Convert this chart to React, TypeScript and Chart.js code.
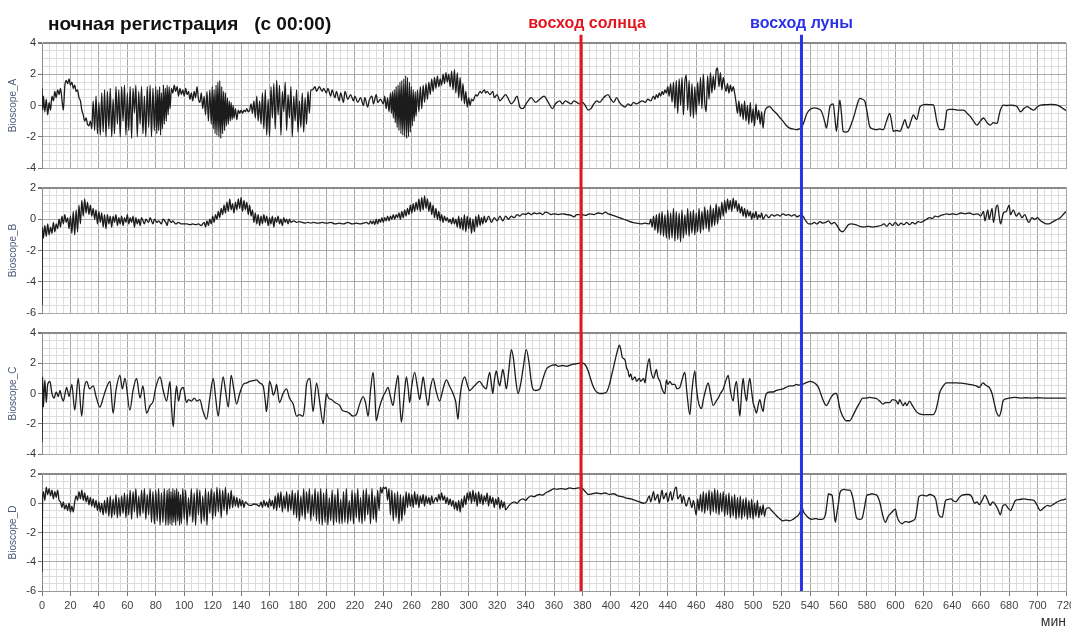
import React, { useEffect, useRef } from "react";
import { Chart, registerables } from "chart.js";

Chart.register(...registerables);

const FONT = "'Liberation Sans', Arial, sans-serif";

const chartTitle = "ночная регистрация   (с 00:00)";
const sunriseLabel = "восход солнца";
const moonriseLabel = "восход луны";
const xAxisTitle = "мин";
const panelTitles = ["Bioscope_A", "Bioscope_B", "Bioscope_C", "Bioscope_D"];
const panelRanges: [number, number][] = [[-4, 4], [-6, 2], [-4, 4], [-6, 2]];

const xMin = 0;
const xMax = 720;
const xMinorStep = 5;
const xMajorStep = 20;
const yMinorStep = 0.5;
const yMajorStep = 2;

const sunriseMinute = 379;
const moonriseMinute = 534;
const markerSpan = [0, 1.015];

const seriesA: [number, number][] = [
  [0,1.1],[0.5,-0.3],[1,0.6],[2,-0.4],[3,0.4],[4,-0.6],[5,0.2],[6,-0.3],[7,0.6],[8,0.3],[9,0.9],[10,0.5],[11,1.0],[12,0.7],[13,1.1],[14,0.4],[15,-0.3],[16,1.2],[17,1.6],[18,1.4],[19,1.7],[20,1.3],[21,1.5],[22,1.1],[23,1.3],[24,0.9],[25,1.0],[26,0.5],[27,0.3],[28,-0.3],[29,-0.6],[30,-1.0],[31,-0.8],[32,-1.2],[33,-1.3],[34,-1.0],[35,-1.5],
  [36,0.3],[37,-1.6],[38,0.6],[39,-1.8],[40,0.2],[41,-1.9],[42,0.8],[43,-1.7],[44,1.0],[45,-2.0],[46,0.9],[47,-1.5],[48,1.1],[49,-2.0],[50,0.4],[51,-1.8],[52,1.2],[53,-1.2],[54,1.0],[55,-2.0],[56,1.2],[57,-1.0],[58,1.3],[59,-1.9],[60,0.8],[61,-1.6],[62,1.2],[63,-2.1],[64,1.1],[65,-0.5],[66,1.3],[67,-2.0],[68,0.9],[69,-1.2],[70,1.2],[71,-1.8],[72,0.6],[73,-2.0],[74,1.2],[75,-1.4],[76,1.3],[77,-2.0],[78,1.1],[79,-1.6],
  [80,1.2],[80.7,-1.8],[81.4,1.0],[82,-1.6],[82.7,1.2],[83.4,-1.9],[84,0.8],[84.7,-1.5],[85.4,1.3],[86,-1.2],[86.7,1.1],[87.4,-1.0],[88,1.3],[88.7,-0.6],[89.4,1.2],[90,-0.2],[91,1.1],[92,0.8],[93,1.3],[94,0.9],[95,1.2],[96,0.6],[97,1.1],[98,0.7],[99,1.0],
  [100,0.6],[101,1.1],[102,0.7],[103,0.9],[104,0.4],[105,0.8],[106,0.3],[107,0.9],[108,0.5],[109,1.2],[110,0.4],[111,0.2],[112,0.8],[113,-0.2],[114,0.6],
  [115,-0.6],[116,0.9],[117,-1.0],[118,1.0],[119,-1.2],[119.7,1.2],[120.4,-1.5],[121,1.0],[121.7,-1.8],[122.4,1.3],[123,-1.9],[123.7,1.5],[124.4,-2.0],[125,1.6],[125.7,-2.1],[126.4,1.2],[127,-1.8],[127.7,0.9],[128.4,-1.6],[129,0.8],[129.7,-1.3],[130.4,0.5],[131,-1.2],[131.7,0.3],[132.4,-1.0],[133,0.2],[133.7,-0.9],[134.4,0.0],[135,-0.8],[136,-0.2],[137,-0.9],[138,-0.3],[139,-0.5],
  [140,-0.3],[141,-0.5],[142,-0.3],[143,-0.4],[144,-0.2],[145,-0.4],[146,-0.3],[147,0.1],[148,-0.5],[149,0.3],
  [150,-0.8],[151,0.6],[152,-1.0],[153,0.3],[154,-1.2],[155,0.8],[156,-1.5],[157,1.0],[158,-1.9],[159,0.4],[160,-2.0],[161,1.2],[162,-0.8],[163,1.4],[164,-1.5],[165,1.6],[166,-0.6],[167,1.3],[168,-1.9],[169,0.9],[170,-0.4],[171,1.5],[172,-1.6],[173,0.7],[174,-0.8],[175,1.2],[176,-2.0],[177,0.6],[178,-1.0],[179,1.0],[180,-1.7],[181,0.3],[182,-1.4],[183,0.8],[184,-1.7],[185,0.5],[186,-1.2],[187,0.9],[188,-0.5],[189,1.0],
  [190,1.0],[192,1.2],[193,0.9],[195,1.2],[197,0.9],[198,1.1],[200,0.8],[201,1.1],[203,0.6],[204,1.0],[206,0.5],[207,0.9],[209,0.3],[210,0.8],[212,0.2],[213,0.9],[215,0.4],[217,0.7],[219,0.3],[220,0.6],[222,0.2],[224,0.5],
  [226,0.0],[227,0.5],[229,-0.1],[230,0.3],[232,0.6],[233,0.1],[235,0.7],[236,0.2],[238,0.4],[240,0.1],[241,0.6],[242,-0.2],[243,0.5],[244,-0.4],[245,0.8],
  [245.7,-0.5],[246.4,0.9],[247,-0.8],[247.7,1.0],[248.4,-1.1],[249,1.2],[249.7,-1.4],[250.4,1.3],[251,-1.6],[251.7,1.5],[252.4,-1.8],[253,1.6],[253.7,-1.9],[254.4,1.7],[255,-2.0],[255.7,1.9],[256.4,-2.1],[257,1.8],[257.7,-2.0],[258.4,1.5],[259,-1.7],[259.7,1.2],[260.4,-1.3],[261,1.0],[261.7,-1.0],[262.4,0.9],[263,-0.7],[264,1.0],[265,-0.4],[266,1.2],[267,-0.2],[268,1.3],[269,0.2],[270,1.4],
  [271,0.4],[272,1.5],[273,0.7],[274,1.7],[275,0.9],[276,1.8],[277,1.1],[278,1.9],[279,1.2],[280,1.7],[281,1.3],[282,2.0],[283,1.4],[284,2.1],[285,1.5],[286,2.0],[287,1.2],[288,2.2],[289,1.0],[290,2.3],[291,0.8],[292,2.1],[293,0.5],[294,1.8],[295,0.3],[296,1.4],[297,0.1],[298,0.9],[299,-0.1],[300,0.5],[301,0.0],[302,0.4],[303,0.3],[305,0.7],[306,0.6],[308,0.9],[309,0.8],[311,1.0],[312,0.8],[313,0.9],[315,0.7],[317,0.9],[318,0.5],[320,0.7],[322,0.3],[324,0.5],[326,0.7],[328,0.4],[330,0.1],[332,0.3],[334,0.6],[336,-0.1],[338,-0.2],[341,0.2],[344,0.5],[347,0.2],[350,0.4],[353,0.6],[356,0.2],[359,-0.2],
  [361,0.1],[362,0.2],[364,0.3],[366,0.1],[368,0.3],[370,0.2],[372,0.1],[374,0.3],[376,0.2],[378,0.1],[380,0.2],[382,0.0],[384,-0.3],[386,-0.2],[388,0.1],[390,0.3],[392,0.2],[394,0.4],[396,0.6],[398,0.7],[400,0.4],[402,0.2],[404,0.5],[406,0.2],[408,0.0],[410,-0.1],[412,0.1],[414,0.0],[416,0.2],[418,0.1],[420,0.2],[422,0.3],[424,0.2],[426,0.4],[428,0.3],[430,0.6],[431,0.4],[432,0.7],[433,0.5],[434,0.8],[435,0.6],[436,0.9],[437,0.7],[438,1.0],[439,0.8],[440,1.2],[441,0.6],
  [442,1.4],[443,0.2],[444,1.5],[445,-0.2],[446,1.6],[447,-0.5],[448,1.7],[449,0.0],[450,1.8],[451,-0.6],[452,1.5],[453,1.95],[454,-0.3],[455,1.6],[456,-0.7],[457,1.4],[458,-0.8],[459,1.2],[460,-0.6],
  [461,1.5],[462,0.0],[463,1.8],[464,-0.2],[465,2.0],[466,0.2],[467,-0.4],[468,1.9],[469,0.4],[470,2.1],[471,0.8],[472,1.9],[473,1.0],[474,2.2],[475,2.4],[476,1.2],[477,2.1],[478,1.0],[479,1.8],
  [480,1.3],[481,0.9],[482,1.4],[483,0.8],[484,1.3],[485,0.9],[486,1.2],[487,0.8],
  [488,0.2],[489,-0.5],[490,0.3],[491,-0.7],[492,0.1],[493,-0.9],[494,0.3],[495,-1.0],[496,0.0],[497,-1.2],[498,0.2],[499,-1.1],[500,-0.2],[501,-1.3],[502,0.1],[503,-0.9],[504,-0.3],[505,-1.2],[506,-0.4],[507,-1.45],[508,-0.5],[509,-0.2],
  [511.6,-0.07],[514,-0.3],[516.3,-0.5],[519,-0.8],[521,-1.0],[523,-1.25],[525.7,-1.45],[528,-1.5],[530.4,-1.55],[532.5,-1.5],[534.4,-1.35],[536,-1.0],[537.4,-0.6],[539,-0.35],[541,-0.2],[543,-0.15],[545.6,-0.2],[547.5,-0.3],[549,-0.6],[550.5,-1.1],[551.6,-1.45],[552.8,-0.8],[554,-0.07],[556.3,0.1],[557.5,-0.8],[558.6,-1.65],[559.8,-0.6],[561,0.35],[562.2,-0.6],[563.3,-1.65],[565,-1.7],[566.8,-1.65],[569,-1.2],[571.5,-0.5],[573.3,0.1],[575,0.45],[576.8,0.4],[578.6,0.25],[580.3,-0.5],[582,-1.35],[584.4,-1.5],[586.8,-1.55],[589,-1.5],[591.5,-1.55],[593.8,-1.0],[596,-0.5],[597.3,-1.0],[598.6,-1.65],[601,-1.6],[603.3,-1.65],[605,-1.3],[606.8,-0.9],[608,-1.3],[609,-1.45],[611,-1.0],[612.7,-0.6],[614,-0.8],[615,-0.9],[617.4,-0.07],[620,0.05],[622,0.07],[624.5,0.05],[626.8,0.04],[628,-0.4],[629,-0.95],[630.3,-1.4],[631.6,-1.55],[634,-1.55],[635.3,-0.9],[636.3,-0.3],[638.5,-0.25],[641,-0.25],[644.5,-0.3],[648,-0.3],[650.5,-0.5],[652.7,-0.7],[655,-1.0],[657.4,-1.25],[659.7,-1.0],[662,-0.8],[664.5,-1.1],[666.8,-1.25],[669,-1.1],[671.5,-1.15],[673,-0.6],[673.8,-0.3],[676,0.03],[678.5,0.0],[681,0.03],[683.5,0.0],[685.6,-0.07],[688,-0.4],[690.3,-0.2],[692.6,-0.07],[695,-0.2],[697.4,-0.3],[699.7,-0.1],[702,0.03],[705.5,0.05],[709,0.07],[712.5,0.05],[716,-0.07],[718,-0.2],[720,-0.33],
];

const seriesB: [number, number][] = [
  [0,-5.5],[0.3,-0.5],[1,-1.2],[2,-0.4],[3,-1.1],[4,-0.3],[5,-1.0],[6,-0.5],[7,-0.9],[8,-0.2],[9,-0.8],[10,-0.3],[11,-0.6],[12,0.0],[13,-0.5],[14,0.2],[15,-0.3],[16,0.3],[17,-0.2],[18,0.1],[19,-0.6],[20,0.2],[21,-0.9],[22,0.5],[23,-1.0],[24,0.6],[25,-0.8],[26,0.9],[27,-0.3],[28,1.2],[29,0.2],[30,1.3],[31,0.4],[32,1.1],[33,0.3],[34,0.9],[35,0.2],[36,0.7],[37,0.0],[38,0.6],[39,-0.3],[40,0.5],[41,-0.2],[42,0.4],[43,-0.5],[44,0.3],[45,-0.6],[46,0.3],[47,-0.3],[48,0.2],[49,-0.5],[50,0.2],[51,-0.2],[52,0.3],[53,-0.4],[54,0.1],[55,-0.3],[56,0.2],[57,-0.4],[58,0.1],[59,-0.2],[60,0.3],[61,-0.3],[62,0.1],[63,-0.2],[64,0.2],[65,-0.5],[66,0.1],[67,-0.3],[68,0.0],[69,-0.4],[70,0.1],[72,-0.3],[73,0.0],[75,-0.2],[76,0.1],[78,-0.3],[79,0.0],[81,-0.2],[82,-0.1],[84,-0.3],[85,0.0],[87,-0.2],[88,-0.4],[89,0.0],[91,-0.2],[92,-0.1],[94,-0.3],[96,-0.2],[98,-0.3],
  [100,-0.3],[102,-0.3],[104,-0.35],[106,-0.3],[108,-0.35],[110,-0.3],[112,-0.4],[114,-0.2],[115,-0.5],[116,-0.1],[117,-0.4],[118,0.0],[119,-0.3],[120,0.2],[121,-0.2],[122,0.3],[123,0.0],[124,0.5],[125,0.1],[126,0.7],[127,0.3],[128,0.9],[129,0.4],[130,1.1],[131,0.5],[132,1.3],[133,0.6],[134,1.0],[135,0.4],[136,1.1],[137,0.6],[138,1.3],[139,0.7],[140,1.4],[141,0.5],[142,1.2],[143,0.6],[144,1.1],[145,0.3],[146,0.9],[147,0.2],[148,0.6],[149,-0.2],[150,0.4],[151,-0.3],[152,0.3],[153,-0.4],[154,0.2],[155,-0.3],[156,0.3],[157,-0.2],[158,0.2],[159,-0.4],[160,0.1],[161,-0.3],[162,0.2],[163,-0.5],[164,0.1],[165,-0.2],[166,0.2],[167,-0.3],[168,0.0],[169,-0.4],[170,0.1],[171,-0.2],[172,0.0],[173,-0.3],[174,0.0],[175,-0.2],[177,-0.1],[179,-0.2],[181,-0.15],[183,-0.2],[185,-0.25],[187,-0.2],[189,-0.25],[191,-0.2],[194,-0.25],[197,-0.2],[200,-0.25],[203,-0.2],[206,-0.3],[209,-0.25],[212,-0.3],[215,-0.2],[218,-0.3],[221,-0.25],[224,-0.3],
  [226,-0.25],[228,-0.2],[230,-0.3],[231,-0.1],[232,-0.3],[233,-0.1],[234,-0.35],[235,0.0],[236,-0.3],[237,0.0],[238,-0.2],[239,0.1],[240,-0.2],[241,0.1],[242,-0.1],[243,0.2],[244,-0.1],[245,0.2],[246,0.0],[247,0.3],[248,0.0],[249,0.3],[250,0.1],[251,0.4],[252,0.0],[253,0.5],[254,0.1],[255,0.6],[256,0.2],[257,0.7],[258,0.3],[259,0.9],[260,0.4],[261,1.0],[262,0.5],[263,1.1],[264,0.6],[265,1.3],[266,0.5],[267,1.4],[268,0.6],[269,1.5],[270,0.7],[271,1.3],[272,0.5],[273,1.1],[274,0.3],[275,0.9],[276,0.1],[277,0.7],[278,0.0],[279,0.5],[280,-0.1],[281,0.3],[282,-0.2],[283,0.2],[284,-0.1],[285,0.1],[286,-0.2],[287,0.0],[288,-0.3],[289,0.1],[290,-0.3],[291,0.0],[292,-0.5],[293,0.2],[294,-0.6],[295,0.1],[296,-0.7],[297,0.3],[298,-0.8],[299,0.2],[300,-0.6],[301,0.1],[302,-0.9],[303,0.0],[304,-0.8],[305,0.2],[306,-0.5],[307,0.3],[308,-0.4],[309,0.1],[310,-0.3],[311,0.2],[312,-0.2],
  [314,0.2],[316,-0.2],[318,0.1],[320,-0.1],[322,0.2],[324,-0.1],[326,0.2],[328,0.0],[330,0.2],[332,0.1],[334,0.3],[336,0.2],[338,0.35],[340,0.3],[342,0.4],[344,0.3],[346,0.4],[348,0.35],[350,0.4],[352,0.3],[354,0.45],[356,0.4],[358,0.3],
  [360,0.35],[363,0.3],[366,0.35],[369,0.3],[372,0.25],[374,0.15],[376,0.3],[379,0.3],[382,0.25],[385,0.35],[388,0.3],[391,0.4],[394,0.35],[396,0.45],[398,0.35],[400,0.3],[403,0.2],[406,0.1],[409,0.0],[412,-0.1],[415,-0.2],[418,-0.25],[421,-0.3],[424,-0.25],[427,-0.3],
  [428,0.0],[429,-0.5],[430,0.2],[431,-0.7],[432,0.3],[433,-0.9],[434,0.4],[435,-1.0],[436,0.5],[437,-1.1],[438,0.3],[439,-1.2],[440,0.6],[441,-1.3],[442,0.4],[443,-1.2],[444,0.7],[445,-1.4],[446,0.5],[447,-1.3],[448,0.4],[449,-1.45],[450,0.6],[451,-1.2],[452,0.3],[453,-1.0],[454,0.7],[455,-1.1],[456,0.5],[457,-0.9],[458,0.6],[459,-1.0],[460,0.4],[461,-0.8],[462,0.7],[463,-0.9],[464,0.5],[465,-0.7],[466,0.8],[467,-0.6],[468,0.6],[469,-0.8],[470,0.9],[471,-0.5],[472,0.7],[473,-0.4],[474,1.0],[475,-0.3],[476,0.8],[477,0.0],[478,1.1],[479,0.2],[480,1.2],[481,0.4],[482,1.3],[483,0.6],[484,1.2],[485,0.5],[486,1.35],[487,0.7],[488,1.2],[489,0.5],[490,1.0],[491,0.4],[492,0.8],[493,0.2],[494,0.7],[495,0.1],[496,0.6],[497,0.2],[498,0.5],[499,0.0],[500,0.4],[501,0.1],[502,0.5],[503,0.0],[504,0.3],[505,0.1],[506,0.4],[507,0.0],
  [509,0.3],[511,0.1],[513,0.3],[515,0.2],[517,0.3],[519,0.2],[521,0.35],[523,0.25],[525,0.3],[527,0.2],[529,0.3],[531,0.15],[533,0.25],[535,0.2],[537,-0.1],[539,-0.3],[541,-0.3],[543,-0.2],[545,-0.3],[547,-0.15],[549,-0.25],[551,-0.2],[553,-0.1],[555,-0.3],[557,-0.2],[559,-0.4],[561,-0.7],[563,-0.8],[565,-0.6],[567,-0.35],[569,-0.3],[572,-0.35],[575,-0.45],[578,-0.5],[581,-0.45],[584,-0.5],[587,-0.45],[590,-0.4],[592,-0.3],[594,-0.45],[596,-0.25],[598,-0.4],[600,-0.2],[602,-0.4],[604,-0.25],[606,-0.35],[608,-0.2],[610,-0.35],[612,-0.2],[614,-0.3],[616,-0.15],[618,-0.2],[620,-0.1],[622,0.0],[624,0.1],[626,0.05],[628,0.2],[630,0.15],[632,0.25],[634,0.3],[636,0.35],[638,0.3],[640,0.35],[643,0.3],[646,0.4],[649,0.35],[652,0.4],[655,0.3],[658,0.35],[660,0.2],[662,0.5],[663,-0.1],[665,0.6],[666,0.0],[668,0.7],[669,-0.2],[671,0.8],[672,0.9],[673,0.2],[674,-0.3],[676,0.4],[678,0.5],[680,0.9],[681,0.3],[683,0.6],[685,0.2],[687,0.4],[689,0.1],[691,0.3],[693,-0.1],[694,-0.2],[696,0.1],[698,0.0],[700,0.1],[702,-0.1],[704,-0.2],[706,-0.3],[708,-0.3],[710,-0.2],[712,-0.1],[714,0.0],[716,0.1],[718,0.3],[720,0.5],
];

const seriesC: [number, number][] = [
  [0,-3.2],[0.4,1.1],[1,-0.9],[2,0.9],[3,-0.6],[4,0.6],[5.6,0.8],[7,0.0],[8.5,-0.3],[10,0.1],[11.5,-0.2],[12.6,0.2],[14,-0.3],[15,-0.5],[17.3,0.4],[19,-0.2],[21,0.6],[23,-1.1],[25.5,1.0],[27.9,-1.5],[29.5,0.2],[31.4,0.8],[33.5,0.3],[36,0.5],[38,-0.2],[40.7,-0.9],[43,-0.3],[45,0.3],[47.8,0.8],[50,-1.3],[52,0.2],[54.8,1.2],[56.5,0.3],[58.3,1.0],[61.8,-1.1],[64,0.2],[66.5,1.0],[68.9,-0.3],[71,0.5],[73.5,-1.3],[76,-0.8],[78.2,-0.5],[80,0.4],[83,1.1],[85,0.3],[87.6,-0.5],[90,0.8],[91,-0.8],[92.3,-2.2],[93.5,-0.5],[94.6,0.5],[96,-0.5],[97.5,0.2],[99.3,0.4],
  [101.6,-0.6],[103,-0.4],[105,-0.5],[107,-0.3],[109,-0.5],[111,-0.4],[113,-1.1],[115.7,-1.7],[118,-0.3],[120.4,1.0],[122,-0.2],[123.9,-1.5],[125.5,-0.2],[127.4,1.1],[129,0.2],[131,-0.9],[133,1.2],[135,0.2],[136.8,-0.7],[139,0.0],[141.5,0.6],[144,0.7],[146,0.8],[148.5,0.85],[150.8,0.9],[153,0.7],[155.5,0.5],[157,-0.5],[157.8,-1.2],[159,-0.2],[160,0.8],[161.5,0.4],[162.5,-0.1],[164,0.2],[164.9,0.6],[167,-0.6],[169.5,0.0],[171.9,0.3],[174,-0.3],[176.6,-0.7],[179,-1.5],[181,-1.4],[183.6,-1.5],[185,-0.5],[186,0.6],[188.3,1.0],[190.6,-1.2],[193,0.7],[195.3,-0.6],[197.7,-2.0],[199,-0.8],
  [200,0.0],[201.5,-0.3],[203.5,-0.4],[206,-0.6],[209.4,-0.8],[211,-1.1],[214,-1.2],[216,-1.3],[218.7,-1.5],[221,-1.4],[223,-0.8],[225.8,-0.2],[227.5,-0.6],[229.3,-1.5],[231,0.2],[232.8,1.4],[234,0.0],[235,-1.8],[237,-1.0],[239.8,-0.2],[241.5,0.1],[243.3,0.4],[245,-0.2],[246.8,-0.8],[248.5,0.3],[250.4,1.2],[251.5,-0.5],[252.7,-1.9],[254.5,-0.3],[256.2,1.1],[257.5,0.3],[258.5,-0.6],[260,0.5],[262,1.4],[264,0.4],[265.6,-0.4],[267,0.5],[268,1.1],[269.5,0.2],[271.4,-0.8],[273,0.3],[275,1.0],[277,0.2],[279.6,-0.5],[282,0.3],[284.3,0.9],[286.5,0.5],[289,0.0],[291,-0.6],[292.5,-1.7],[293.5,-0.6],[294.8,0.4],[297.2,1.1],[299,0.6],
  [300.7,0.2],[303,0.4],[305,0.6],[307.7,0.8],[310,0.5],[312.4,0.3],[313.5,0.9],[314.8,1.4],[316,0.6],[317,0.0],[318,0.8],[319.4,1.5],[320.5,1.0],[321.8,0.5],[323,1.1],[324,1.6],[325.3,1.0],[326.5,0.3],[328.3,1.6],[330,2.9],[331.5,2.3],[333,1.0],[334.7,0.0],[336.5,0.6],[338.5,1.8],[340.5,2.9],[342.5,2.0],[344,0.8],[345.2,0.3],[347,0.2],[350,0.3],[352,0.9],[354.6,1.6],[357,1.8],[361,1.9],
  [363,1.8],[366,1.85],[369,1.8],[372,1.9],[375,1.95],[378,2.0],[380,2.0],[382,1.9],[384,1.5],[385,1.2],[387,0.6],[389,0.2],[390,0.1],[392,0.0],[394,0.0],[396,0.05],[397,0.1],[399,0.6],[400.5,1.2],[402,1.8],[404,2.6],[406,3.2],[407,2.9],[408,2.4],[410,2.2],[411,1.7],[412,1.5],[413,1.1],[414,1.3],[415,0.9],[417,1.1],[418,0.8],[420,1.0],[421,0.8],[423,1.0],[424,0.7],[425,1.4],[427,2.3],[428,1.6],[430,1.0],[431,1.3],[432,1.6],[433,1.1],[434.5,0.8],[436,0.3],[438,0.0],[439,0.9],[440,0.6],[441.5,0.8],[443,0.6],[445,0.6],[446.5,0.3],[448.5,0.4],[450,0.9],[452,1.4],[453.5,0.0],[455.5,-1.4],[457,0.2],[459,1.5],[460,0.5],[461.4,-0.5],[463.7,-1.0],[465,-0.4],[466,0.0],[468.4,0.7],[470,0.0],[472,-0.8],[474,-0.5],[475.5,-0.3],[477,0.0],[479,0.3],[481,0.9],[482.5,1.2],[484,0.2],[486,-0.5],[487,0.3],[488.3,0.8],[489.5,-0.4],[490.7,-1.5],[492,0.2],[493,1.0],[494,0.2],[495.4,-0.5],[496.5,0.4],[497.7,1.0],[499,0.1],
  [500,-0.6],[501,-0.9],[502.4,-1.3],[503.5,-0.8],[504.7,-0.4],[506,-0.9],[507,-1.2],[508,-0.5],[509.4,0.0],[511.8,0.1],[514,0.1],[516.4,0.2],[518.5,0.25],[521,0.3],[523,0.4],[525.8,0.5],[528,0.5],[530.5,0.6],[532,0.55],[534.5,0.6],[537,0.7],[540,0.8],[542,0.75],[544.5,0.6],[546,0.4],[547.5,0.0],[549,-0.4],[550.5,-0.7],[551.6,-0.8],[553,-0.6],[554.5,-0.3],[556,-0.1],[557.5,0.0],[558.6,0.0],[560,-0.5],[561,-1.0],[563,-1.5],[565.6,-1.8],[568,-1.8],[570,-1.5],[572.6,-1.0],[575,-0.6],[577,-0.3],[580,-0.3],[582,-0.25],[585,-0.3],[587,-0.35],[589,-0.5],[591.4,-0.7],[593,-0.6],[596,-0.6],[598,-0.4],
  [600.7,-0.5],[602,-0.7],[603,-0.4],[605.4,-0.8],[607,-0.6],[608,-0.8],[610,-0.5],[612,-0.8],[614.8,-1.2],[617,-1.35],[619.5,-1.4],[623,-1.4],[626.5,-1.4],[628.5,-1.1],[630,-0.5],[631,0.0],[633,0.4],[636,0.7],[639,0.7],[643,0.7],[646,0.68],[649,0.65],[652,0.6],[655,0.55],[657,0.5],[659,0.4],[660,0.5],[661.6,0.7],[663,0.6],[664.5,0.5],[666,0.4],[668,0.0],[669.5,-0.6],[671,-1.2],[673,-1.5],[674.5,-1.1],[675.7,-0.5],[678,-0.35],[680,-0.3],[684,-0.25],[688,-0.3],[692,-0.28],[696,-0.3],[700,-0.28],[705,-0.3],[710,-0.3],[715,-0.3],[720,-0.3],
];

const seriesD: [number, number][] = [
  [0,-4.7],[0.4,0.3],[1,0.8],[2,0.2],[3,1.1],[4,0.6],[5,1.0],[6,0.5],[7,0.9],[8,0.3],[9,0.8],[10,0.4],[11,0.9],[12,0.2],[13,0.1],[14,-0.3],[15,0.1],[16,-0.4],[17,-0.1],[18,-0.5],[19,0.0],[20,-0.6],[21,-0.2],[22,-0.6],[23,0.1],[24,0.5],[25,0.2],[26,0.8],[27,0.3],[28,0.9],[29,0.2],[30,0.7],[31,0.1],[32,0.5],[33,-0.1],[34,0.4],[35,-0.2],[36,0.3],[37,-0.3],[38,0.2],[39,-0.5],[40,0.1],[41,-0.6],[42,0.0],[43,-0.8],[44,0.2],[45,-0.7],[46,0.4],[47,-0.9],[48,0.5],[49,-1.0],[50,0.3],[51,-0.8],[52,0.6],[53,-1.0],[54,0.4],[55,-0.9],[56,0.5],[57,-0.7],[58,0.7],[59,-1.0],[60,0.6],[61,-0.8],[62,0.9],[63,-1.1],[64,0.8],[65,-0.6],[66,1.0],[67,-1.0],[68,0.5],[69,-0.9],[70,0.9],[71,-0.7],[72,1.0],[73,-1.1],[74,0.6],[75,-0.8],[76,1.0],[77,-1.3],[78,0.8],[79,-1.4],[80,0.9],[81,-1.2],[82,1.0],[83,-1.5],[84,0.7],[85,-1.3],[86,1.0],[87,-1.5],[88,0.9],[88.7,-1.5],[89.4,1.0],[90,-1.4],[90.7,0.8],[91.4,-1.5],[92,1.0],[92.7,-1.3],[93.4,0.9],[94,-1.5],[94.7,1.0],[95.4,-1.2],[96,0.8],[96.7,-1.5],[97.4,0.6],[98,-1.4],[99,1.0],
  [100,-1.1],[101,0.9],[102,-1.5],[103,0.4],[104,-0.9],[105,1.0],[106,-1.3],[107,0.7],[108,-1.5],[109,1.0],[110,-0.8],[111,0.9],[112,-1.4],[113,0.5],[114,-1.2],[115,1.0],[116,-1.5],[117,0.8],[118,-0.7],[119,1.0],[120,-1.1],[121,0.8],[122,-0.9],[123,1.1],[124,-0.6],[125,1.0],[126,-1.0],[127,0.9],[128,-0.5],[129,1.1],[130,-0.8],[131,0.7],[132,-0.4],[133,0.9],[134,-0.3],[135,0.5],[136,-0.2],[137,0.4],[138,-0.3],[139,0.3],[140,-0.2],[141,0.2],[142,-0.3],[143,0.1],[145,-0.1],[147,-0.15],[149,-0.05],[151,-0.1],[153,-0.2],[154,0.1],[155,-0.3],[156,0.2],[157,-0.2],[158,0.1],[159,-0.3],[160,0.3],[161,-0.2],[162,0.2],[163,-0.4],[164,0.5],[165,-0.5],[166,0.7],[167,-0.3],[168,0.8],[169,-0.6],[170,0.5],[171,-0.4],[172,0.8],[173,-0.6],[174,0.6],[175,-0.5],[176,0.9],[177,-0.8],[178,0.7],[179,-1.0],[180,0.9],[181,-1.2],[182,0.5],[183,-0.9],[184,1.0],[185,-1.1],[186,0.8],[187,-0.7],[188,1.0],[189,-1.2],[190,0.6],[191,-0.9],[192,1.0],[193,-1.2],[194,0.8],[195,-1.4],[196,1.0],[197,-1.5],[198,0.7],[199,-1.3],
  [200,1.0],[201,-1.5],[202,0.4],[203,-1.2],[204,0.9],[205,-1.5],[206,0.6],[207,-1.3],[208,1.0],[209,-1.4],[210,0.3],[211,-1.4],[212,0.8],[213,-1.3],[214,1.0],[215,-1.4],[216,0.2],[217,-1.2],[218,0.9],[219,-1.4],[220,0.7],[221,-1.0],[222,1.0],[223,-1.3],[224,0.4],[225,-1.4],[226,0.9],[227,-1.2],[228,1.0],[229,-0.8],[230,0.6],[231,-1.4],[232,1.0],[233,-1.1],[234,0.5],[235,-1.3],[236,0.9],[237,-0.5],[238,1.1],[239,0.7],[240,1.1],[241,1.0],[242,1.1],[243,0.2],[244,1.0],[245,-0.8],[246,0.9],[247,-1.2],[248,0.7],[249,-1.0],[250,0.8],[251,-1.4],[252,0.6],[253,-1.2],[254,0.5],[255,-0.8],[256,0.8],[257,-0.3],[258,0.7],[259,-0.2],[260,0.6],[261,-0.3],[262,0.8],[263,-0.1],[264,0.6],[265,-0.3],[266,0.5],[267,0.0],[268,0.6],[269,-0.2],[270,0.5],[271,0.0],[272,0.4],[273,-0.1],[274,0.5],[275,0.0],[277,0.4],[278,0.1],[279,0.6],[280,0.2],[281,0.7],[282,0.2],[283,0.5],[284,0.0],[285,0.4],[286,-0.1],[287,0.3],[288,-0.2],[289,0.2],[290,-0.4],[291,0.1],[292,-0.5],[293,0.2],[294,-0.6],[295,0.3],[296,-0.3],[297,0.5],[298,-0.1],[299,0.7],
  [300,0.2],[301,0.8],[302,0.0],[303,0.9],[304,0.1],[305,0.7],[306,-0.2],[307,0.8],[308,0.0],[309,0.6],[310,-0.1],[311,0.5],[312,0.1],[313,0.7],[314,-0.2],[315,0.5],[316,0.0],[317,0.4],[318,-0.3],[319,0.3],[320,-0.1],[321,0.4],[322,-0.4],[323,0.2],[324,-0.3],[325,0.1],[326,-0.45],[328,-0.2],[330,0.0],[332,0.1],[334,0.0],[336,0.2],[338,0.3],[340,0.2],[342,0.4],[344,0.5],[346,0.45],[348,0.55],[350,0.6],[352,0.55],[354,0.7],[356,0.8],[358,0.9],[360,1.0],
  [362,0.95],[365,1.0],[368,0.95],[371,1.05],[374,1.0],[377,1.05],[380,1.0],[382,0.8],[384,0.6],[387,0.65],[390,0.7],[393,0.65],[396,0.7],[399,0.6],[402,0.65],[405,0.5],[408,0.45],[411,0.35],[414,0.3],[417,0.2],[420,0.1],[423,0.0],[425,0.1],[427,0.5],[428,0.1],[430,0.8],[431,0.2],[433,0.6],[434,0.0],[436,0.9],[437,0.3],[439,0.7],[440,0.1],[442,0.8],[443,0.2],[445,1.0],[446,1.1],[447,0.3],[449,0.6],[450,0.0],[451,0.5],[453,-0.2],[455,0.4],[457,-0.3],[458,0.2],[460,-0.8],[461,0.3],[462,-0.5],[463,0.6],[464,-0.6],[465,0.8],[466,-0.7],[467,0.7],[468,-0.5],[469,0.9],[470,-0.8],[471,0.8],[472,-0.6],[473,1.0],[474,-0.7],[475,0.9],[476,-0.8],[477,0.7],[478,-0.6],[479,0.8],[480,-0.9],[481,0.6],[482,-0.8],[483,0.7],[484,-1.0],[485,0.5],[486,-0.9],[487,0.6],[488,-1.1],[489,0.4],[490,-1.0],[491,0.5],[492,-1.1],[493,0.3],[494,-0.9],[495,0.4],[496,-1.1],[497,0.2],[498,-1.0],[499,0.3],[500,-1.1],[501,0.0],[502,-0.9],[503,0.2],[504,-1.0],[505,-0.2],[506,-0.8],[507,-0.1],[508,-0.9],[509,-0.4],
  [511,-0.3],[513,-0.5],[516,-0.8],[518,-1.0],[521,-1.2],[523,-1.15],[525.5,-1.2],[528,-1.1],[530,-0.95],[532,-0.8],[533.5,-0.5],[534.3,-0.25],[535.5,-0.6],[537,-0.8],[539,-1.0],[541.5,-1.1],[544,-1.05],[546,-1.1],[548.5,-1.1],[550.8,-0.8],[552,0.0],[553,0.65],[554,0.6],[555.5,0.55],[556.8,-0.5],[557.8,-1.3],[559,-0.6],[560,0.0],[561,0.7],[562.5,0.9],[564,0.95],[566,0.9],[568,0.9],[569.5,0.6],[570.7,0.1],[572,-0.7],[573,-1.05],[575,-1.1],[576.5,-1.05],[578.3,-0.3],[580,0.55],[582,0.6],[583.5,0.65],[585.5,0.6],[587,0.55],[589,0.1],[590.6,-0.6],[593,-1.3],[595,-0.9],[597.7,-0.6],
  [600,-0.4],[601.2,-0.9],[602.4,-1.2],[604.7,-1.4],[607,-1.25],[609.4,-1.3],[612,-1.2],[614,-1.05],[615.5,-0.2],[616.6,0.45],[619,0.55],[622,0.5],[624,0.6],[626,0.55],[628.3,0.3],[630.6,-0.8],[633,-0.95],[634.3,-0.3],[635.4,0.2],[637,0.25],[639,0.3],[641,0.15],[642.5,0.1],[645,0.4],[647,0.55],[650,0.6],[652,0.6],[654,0.4],[655.6,0.0],[657.5,0.1],[659,-0.1],[661,0.2],[663,0.55],[665,0.2],[666.6,-0.15],[668.5,0.1],[671,-0.2],[672.5,-0.5],[673.8,-0.8],[675.5,-0.2],[677.3,-0.1],[679,-0.3],[681,-0.5],[683,-0.1],[684.5,0.2],[687,0.25],[690.4,0.3],[693,0.25],[697.4,0.2],[699.5,-0.1],[702,-0.5],[704.5,-0.3],[707,-0.15],[709,-0.2],[711.6,-0.05],[714,0.1],[716.3,0.2],[718.5,0.25],[720,0.3],
];

const panelSeries = [seriesA, seriesB, seriesC, seriesD];
const panelIds = ["yA", "yB", "yC", "yD"];

export default function App() {
  const canvasRef = useRef<HTMLCanvasElement>(null);

  useEffect(() => {
    const canvas = canvasRef.current;
    if (!canvas) return;

    const isMajorX = (v: number) => v % xMajorStep === 0;
    const isMajorY = (v: number) => v % yMajorStep === 0;

    const panelAxis = (title: string, min: number, max: number, weight: number) => ({
      type: "linear",
      position: "left",
      stack: "panels",
      stackWeight: weight,
      min,
      max,
      afterFit: (s: any) => {
        s.width = 42;
      },
      ticks: {
        stepSize: yMinorStep,
        autoSkip: false,
        padding: 2,
        color: "#333",
        font: { size: 11, family: FONT },
        callback: (v: any) => (isMajorY(Number(v)) ? String(v) : ""),
      },
      grid: {
        color: (c: any) =>
          c.tick && c.tick.value === max ? "#8a8a8a" : c.tick && isMajorY(c.tick.value) ? "#ababab" : "#dcdcdc",
        lineWidth: (c: any) => (c.tick && c.tick.value === max ? 2 : 1),
        tickColor: (c: any) => (c.tick && isMajorY(c.tick.value) ? "#777" : "rgba(0,0,0,0)"),
        tickLength: 4,
      },
      border: { display: true, color: "#8a8a8a", width: 1 },
      title: {
        display: true,
        text: title,
        color: "#4f5b78",
        font: { size: 10, family: FONT },
        padding: { top: 7, bottom: 0 },
      },
    });

    const gapAxis = (weight: number) => ({
      type: "linear",
      position: "left",
      stack: "panels",
      stackWeight: weight,
      min: 0,
      max: 1,
      afterFit: (s: any) => {
        s.width = 42;
      },
      grid: { display: false },
      ticks: { display: false },
      border: { display: false },
      title: { display: false },
    });

    const traceDataset = (series: [number, number][], axisId: string) => ({
      data: series.map(([x, y]) => ({ x, y })),
      xAxisID: "x",
      yAxisID: axisId,
      borderColor: "#1c1c1c",
      borderWidth: 1.3,
      pointRadius: 0,
      fill: false,
      cubicInterpolationMode: "monotone",
      order: 1,
    });

    const markerDataset = (minute: number, color: string) => ({
      data: markerSpan.map((y) => ({ x: minute, y })),
      xAxisID: "x",
      yAxisID: "yFull",
      borderColor: color,
      borderWidth: 3,
      pointRadius: 0,
      fill: false,
      clip: false,
      order: 0,
    });

    const gapPlugin = {
      id: "panelGaps",
      beforeDatasetsDraw(chart: any) {
        const { ctx, chartArea } = chart;
        ctx.save();
        ctx.fillStyle = "#ffffff";
        for (const id of ["g1", "g2", "g3"]) {
          const s = chart.scales[id];
          const top = Math.ceil(s.top) + 1;
          const bottom = Math.floor(s.bottom) - 1;
          ctx.fillRect(chartArea.left - 2, top, chartArea.right - chartArea.left + 4, bottom - top);
        }
        ctx.restore();
      },
    };

    const textPlugin = {
      id: "headerTexts",
      afterDraw(chart: any) {
        const { ctx, chartArea, scales } = chart;
        ctx.save();
        ctx.textBaseline = "alphabetic";
        ctx.textAlign = "left";
        ctx.fillStyle = "#111";
        ctx.font = `bold 19px ${FONT}`;
        ctx.fillText(chartTitle, chartArea.left + 6, 30);
        ctx.font = `bold 16px ${FONT}`;
        ctx.textAlign = "center";
        ctx.fillStyle = "#e3161e";
        ctx.fillText(sunriseLabel, scales.x.getPixelForValue(sunriseMinute) + 6, 28);
        ctx.fillStyle = "#2a31e6";
        ctx.fillText(moonriseLabel, scales.x.getPixelForValue(moonriseMinute), 28);
        ctx.restore();
      },
    };

    const chart = new Chart(canvas, {
      type: "line",
      data: {
        datasets: [
          markerDataset(sunriseMinute, "#e3161e"),
          markerDataset(moonriseMinute, "#2a31e6"),
          ...panelSeries.map((s, i) => traceDataset(s, panelIds[i])),
        ] as any,
      },
      options: {
        animation: false,
        responsive: false,
        events: [],
        layout: { padding: { top: 43, left: 0, right: 34, bottom: 0 } },
        plugins: {
          legend: { display: false },
          tooltip: { enabled: false },
          title: { display: false },
        },
        scales: {
          x: {
            type: "linear",
            position: "bottom",
            min: xMin,
            max: xMax,
            afterFit: (s: any) => {
              s.height = 41;
            },
            ticks: {
              stepSize: xMinorStep,
              autoSkip: false,
              maxRotation: 0,
              minRotation: 0,
              padding: 3,
              color: "#444",
              font: { size: 11, family: FONT },
              callback: (v: any) => (isMajorX(Number(v)) ? String(v) : ""),
            },
            grid: {
              color: (c: any) => (c.tick && isMajorX(c.tick.value) ? "#a6a6a6" : "#dcdcdc"),
              tickColor: (c: any) => (c.tick && isMajorX(c.tick.value) ? "#777" : "rgba(0,0,0,0)"),
              tickLength: 5,
            },
            border: { display: true, color: "#999" },
            title: {
              display: true,
              text: xAxisTitle,
              align: "end",
              color: "#333",
              font: { size: 14, family: FONT },
              padding: { top: 0, bottom: 1 },
            },
          },
          yFull: { type: "linear", position: "right", display: false, min: 0, max: 1 },
          yD: panelAxis(panelTitles[3], panelRanges[3][0], panelRanges[3][1], 117),
          g3: gapAxis(20),
          yC: panelAxis(panelTitles[2], panelRanges[2][0], panelRanges[2][1], 121),
          g2: gapAxis(20),
          yB: panelAxis(panelTitles[1], panelRanges[1][0], panelRanges[1][1], 125),
          g1: gapAxis(20),
          yA: panelAxis(panelTitles[0], panelRanges[0][0], panelRanges[0][1], 125),
        } as any,
      },
      plugins: [gapPlugin, textPlugin],
    } as any);

    return () => chart.destroy();
  }, []);

  return (
    <div
      style={{
        position: "fixed",
        left: 0,
        top: 0,
        width: 1071,
        height: 632,
        overflow: "hidden",
        background: "#ffffff",
      }}
    >
      <canvas ref={canvasRef} width={1100} height={632} style={{ display: "block" }} />
    </div>
  );
}
